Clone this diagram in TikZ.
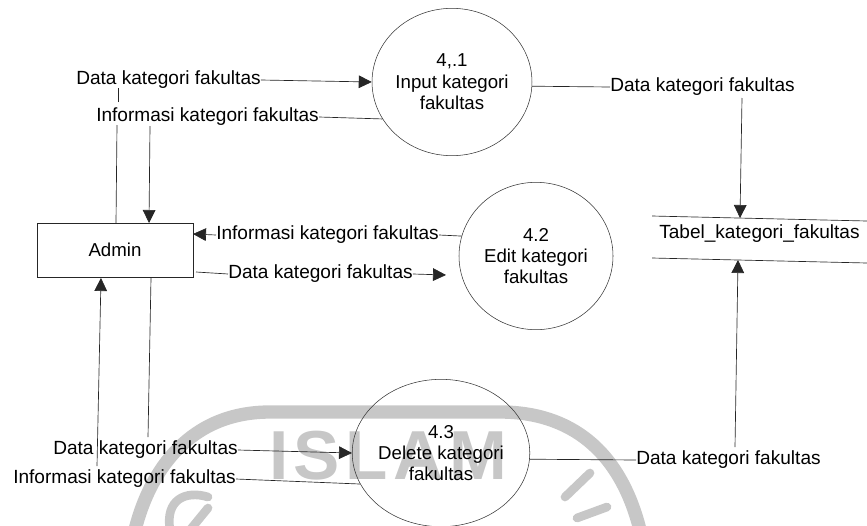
\documentclass[tikz,border=0pt]{standalone}
\usepackage{fontspec}
\setmainfont{Liberation Sans}
\newfontfamily\wmfont[LetterSpace=8]{Liberation Sans Bold}
\usetikzlibrary{arrows.meta,shapes.geometric}
\tikzset{
  lbl/.style={inner sep=0pt,anchor=west,font=\fontsize{14.3}{16}\selectfont},
  proc/.style={draw=black!80,line width=0.4pt,ellipse,inner sep=0pt,minimum width=115.5pt,minimum height=110.5pt,align=center,font=\fontsize{14}{16}\selectfont},
  ent/.style={draw=black!85,line width=0.5pt,rectangle,inner sep=0pt,minimum width=117pt,minimum height=40.5pt,font=\fontsize{14}{16}\selectfont},
  flow/.style={line width=0.5pt,draw=black!85},
  arr/.style={flow,-{Triangle[length=9.75pt,width=9.5pt]}},
  wmring/.style={line width=10pt,draw=black!22,line cap=butt},
  wmbit/.style={line width=6.5pt,draw=black!22,line cap=round}
}
\begin{document}
\begin{tikzpicture}[x=0.75pt,y=-0.75pt]
\useasboundingbox (0,0) rectangle (867,525);
% watermark
\begin{scope}
\clip (0,0) rectangle (867,525);
\draw[wmring] (135,530) .. controls (150,470) and (190,412) .. (270,412) -- (500,412) .. controls (570,412) and (620,450) .. (640,530);
\draw[wmbit] (565,497) -- (590,473);
\draw[wmbit] (577,518) -- (607,507);
\draw[wmbit] (208,497) .. controls (185,490) and (165,500) .. (170,530);
\draw[wmbit] (190,530) -- (208,508);
\node[inner sep=0pt,anchor=center,text=black!22] (wm) at (388,456) {\wmfont\fontsize{52}{54}\selectfont ISLAM};
\end{scope}
% nodes
\node[ent] (admin) at (115,250) {Admin};
\node[proc] (c1) at (452,82) {4,.1\\Input kategori\\fakultas};
\node[proc] (c2) at (536,256) {4.2\\Edit kategori\\fakultas};
\node[proc] (c3) at (441,453) {4.3\\Delete kategori\\fakultas};
\node[lbl] (l1) at (76,80) {Data kategori fakultas};
\node[lbl] (l2) at (96,117) {Informasi kategori fakultas};
\node[lbl] (l3) at (216,235) {Informasi kategori fakultas};
\node[lbl] (l4) at (228,274) {Data kategori fakultas};
\node[lbl] (l5) at (610,87) {Data kategori fakultas};
\node[lbl] (l6) at (53,450) {Data kategori fakultas};
\node[lbl] (l7) at (13,479) {Informasi kategori fakultas};
\node[lbl] (l8) at (636,460) {Data kategori fakultas};
\node[lbl] (store) at (659,234) {Tabel\_kategori\_fakultas};
% data store lines
\coordinate (s1a) at (652,216);
\coordinate (s1b) at (867,221);
\coordinate (s2a) at (652,258);
\coordinate (s2b) at (867,263);
\draw[flow] (s1a) -- (s1b);
\draw[flow] (s2a) -- (s2b);
% free ends and line columns
\coordinate (a1) at (116,223);
\coordinate (a1u) at (117,125);
\coordinate (a2u) at (118,102);
\coordinate (a2v) at (118,88);
\coordinate (b1) at (150,126);
\coordinate (b2) at (149,223);
\coordinate (d1) at (97,466);
\coordinate (d2) at (101,278);
\coordinate (e1) at (151,278);
\coordinate (e2) at (148,437);
\coordinate (f1) at (742,98);
\coordinate (f2) at (740,218);
\coordinate (g1) at (735,447);
\coordinate (g2) at (738,260);
\coordinate (h1) at (196,272);
\coordinate (h2) at (446,275);
\coordinate (h3) at (193,234);
% connectors
\draw[flow] (a1) -- (a1u);
\draw[flow] (a2u) -- (a2v);
\draw[arr] (b1) -- (b2);
\draw[arr] (d1) -- (d2);
\draw[flow] (e1) -- (e2);
\draw[arr] (l1.east) -- (c1.west);
\draw[flow] (l2.east) -- (c1.208);
\draw[flow] (c1.357) -- (l5.west);
\draw[arr] (f1) -- (f2);
\draw[flow] (c2.165) -- (l3.east);
\draw[arr] (l3.west) -- (h3);
\draw[flow] (h1) -- (l4.west);
\draw[arr] (l4.east) -- (h2);
\draw[arr] (l6.east) -- (c3.west);
\draw[flow] (l7.east) -- (c3.201);
\draw[flow] (c3.356) -- (l8.west);
\draw[arr] (g1) -- (g2);
\end{tikzpicture}
\end{document}
